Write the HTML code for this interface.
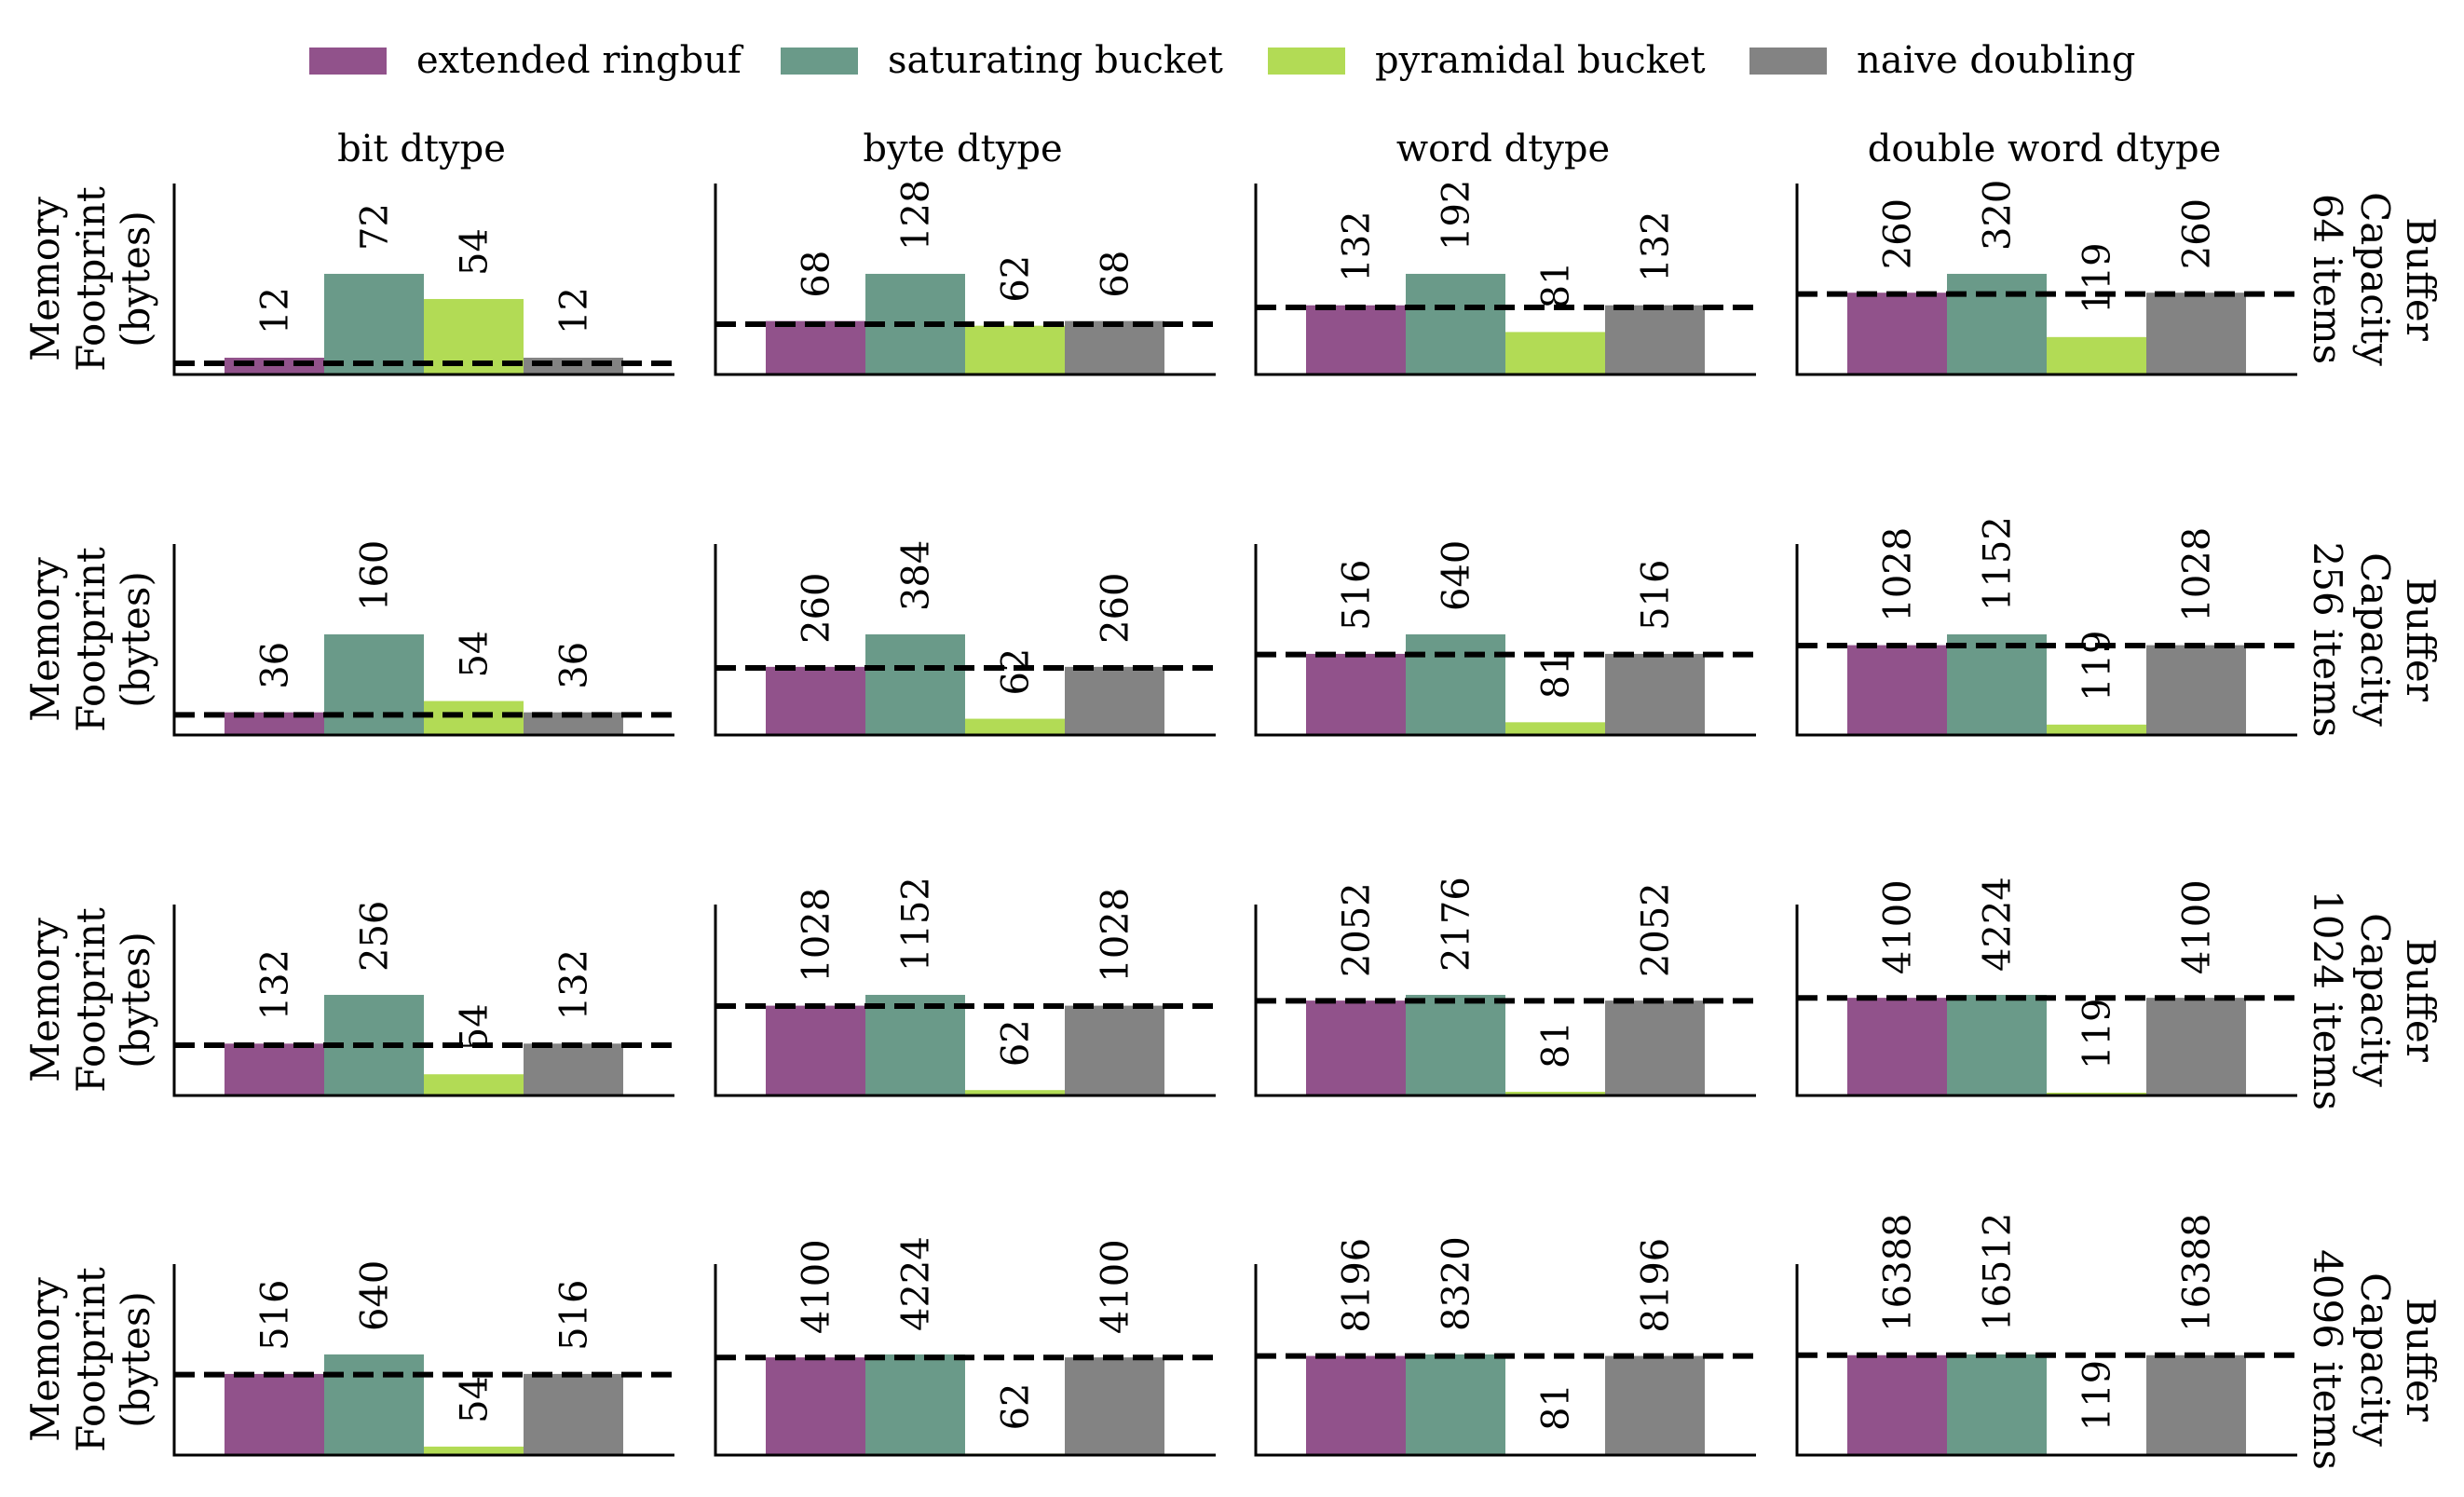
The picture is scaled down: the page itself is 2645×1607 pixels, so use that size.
<!DOCTYPE html>
<html><head><meta charset="utf-8"><style>
html,body{margin:0;padding:0;background:#fff;}
svg{display:block;font-family:"DejaVu Serif","Liberation Serif",serif;}
</style></head><body>
<svg id="fig" xmlns="http://www.w3.org/2000/svg" width="2645" height="1607" viewBox="0 0 2645 1607"></svg>
<script>
const seriesNames = ["extended ringbuf","saturating bucket","pyramidal bucket","naive doubling"];
const seriesColors = ["#91528b","#6a9a89","#b2db55","#838383"];
const dtypeTitles = ["bit dtype","byte dtype","word dtype","double word dtype"];
const capacityLabels = ["64 items","256 items","1024 items","4096 items"];
const valuesRow64 = [[12,72,54,12],[68,128,62,68],[132,192,81,132],[260,320,119,260]];
const valuesRow256 = [[36,160,54,36],[260,384,62,260],[516,640,81,516],[1028,1152,119,1028]];
const valuesRow1024 = [[132,256,54,132],[1028,1152,62,1028],[2052,2176,81,2052],[4100,4224,119,4100]];
const valuesRow4096 = [[516,640,54,516],[4100,4224,62,4100],[8196,8320,81,8196],[16388,16512,119,16388]];
const idealRow64 = [8,64,128,256];
const idealRow256 = [32,256,512,1024];
const idealRow1024 = [128,1024,2048,4096];
const idealRow4096 = [512,4096,8192,16384];

const rows = [valuesRow64,valuesRow256,valuesRow1024,valuesRow4096];
const ideals = [idealRow64,idealRow256,idealRow1024,idealRow4096];
const NS = "http://www.w3.org/2000/svg";
const svg = document.getElementById("fig");
function mk(tag, attrs, parent){
  const e = document.createElementNS(NS, tag);
  for (const k in attrs) e.setAttribute(k, attrs[k]);
  (parent||svg).appendChild(e);
  return e;
}

// legend
const legendBoxX = [332,838,1361,1878];
const legend = mk("g",{});


seriesNames.forEach((n,i)=>{
  const g = mk("g",{},legend);
  
  
  const r = mk("rect",{x:legendBoxX[i],y:51,width:83,height:29,fill:seriesColors[i]},g);
  
  
  const t = mk("text",{x:legendBoxX[i]+115,y:78,"font-size":40,fill:"#000"},g);
  t.textContent = n;
  
  
});

const colLeft = [187,768,1348,1929];
const axW = 537, axH = 205;
const rowTop = [197,584,971,1357];
const barOff = 54, barW = 107;

for (let r=0;r<4;r++){
  for (let c=0;c<4;c++){
    const vals = rows[r][c];
    const ymax = Math.max(...vals)/0.527;
    const x0 = colLeft[c], yTop = rowTop[r], yBot = yTop+axH;
    const yS = v => yBot - v/ymax*axH;
    const g = mk("g",{});
    
    
    vals.forEach((v,i)=>{
      const bx = x0+barOff+i*barW;
      const b = mk("rect",{x:bx,y:yS(v),width:barW,height:yBot-yS(v),fill:seriesColors[i]},g);
      
      
      const cx = bx+barW/2+14, ly = yS(v)-25;
      const t = mk("text",{x:0,y:0,"font-size":40,fill:"#000",transform:`translate(${cx},${ly}) rotate(-90)`},g);
      t.textContent = String(v);
      
      
    });
    const dl = mk("line",{x1:x0,x2:x0+axW,y1:yS(ideals[r][c]),y2:yS(ideals[r][c]),stroke:"#000","stroke-width":6,"stroke-dasharray":"22 10"},g);
    
    
    const ls = mk("line",{x1:x0,x2:x0,y1:yTop,y2:yBot+1.5,stroke:"#000","stroke-width":3},g);
    
    
    const bs = mk("line",{x1:x0-1.5,x2:x0+axW,y1:yBot,y2:yBot,stroke:"#000","stroke-width":3},g);
    
    
    if (r===0){
      const tt = mk("text",{x:x0+axW/2-3,y:173,"font-size":40,"text-anchor":"middle",fill:"#000"},g);
      tt.textContent = dtypeTitles[c];
      
      
    }
    const cy = yTop+axH/2;
    if (c===0){
      const yl = mk("g",{},g);
      
      
      [["Memory",63],["Footprint",112],["(bytes)",160]].forEach(([s,bx])=>{
        const t = mk("text",{x:0,y:0,"font-size":42,"text-anchor":"middle",fill:"#000",transform:`translate(${bx},${cy}) rotate(-90)`},yl);
        t.textContent = s;
      });
    }
    if (c===3){
      const rl = mk("g",{},g);
      
      
      [["Buffer",2584],["Capacity",2535],[capacityLabels[r],2484]].forEach(([s,bx])=>{
        const t = mk("text",{x:0,y:0,"font-size":42,"text-anchor":"middle",fill:"#000",transform:`translate(${bx},${cy}) rotate(90)`},rl);
        t.textContent = s;
      });
    }
  }
}
</script>
</body></html>
